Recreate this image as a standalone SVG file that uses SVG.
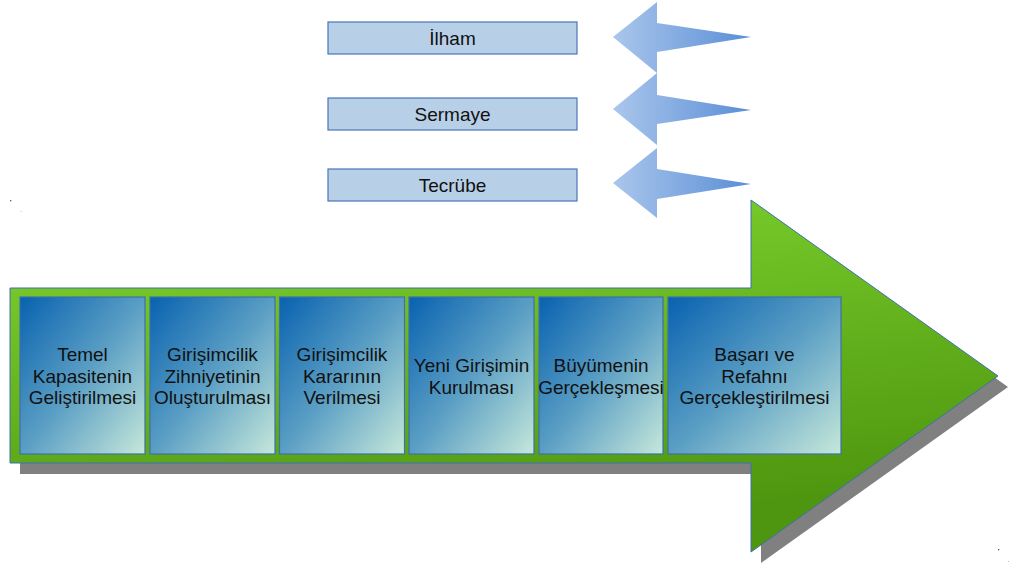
<svg xmlns="http://www.w3.org/2000/svg" width="1011" height="568" viewBox="0 0 1011 568">
<defs>
<linearGradient id="gGreen" x1="0" y1="0" x2="0.3" y2="1">
<stop offset="0" stop-color="#80d630"/>
<stop offset="1" stop-color="#4e960f"/>
</linearGradient>
<linearGradient id="gBox" x1="0" y1="0" x2="1" y2="1">
<stop offset="0" stop-color="#0862b0"/>
<stop offset="0.5" stop-color="#5a9ec4"/>
<stop offset="1" stop-color="#c6e8da"/>
</linearGradient>
<linearGradient id="gBlue" x1="0" y1="0" x2="1" y2="0">
<stop offset="0" stop-color="#aac6ec"/>
<stop offset="1" stop-color="#5a8ed6"/>
</linearGradient>
<style>
.t{font-family:"Liberation Sans",Arial,sans-serif;font-size:19px;fill:#111;text-anchor:middle}
.top{fill:#b8cfe8;stroke:#4a76b8;stroke-width:1.2}
.step{fill:url(#gBox);stroke:#3f6fb0;stroke-width:1.2}
.barrow{fill:url(#gBlue)}
</style>
</defs>
<rect x="10" y="200" width="1.3" height="1.3" fill="#2a5cc0"/>
<rect x="20.5" y="211" width="1" height="1" fill="#bbb"/>
<rect x="998" y="549" width="1.3" height="1.3" fill="#2a5cc0"/>
<rect x="1008" y="561" width="1" height="1" fill="#bbb"/>
<g id="connectors">
<polygon class="barrow" points="613,37 657,2 657,23 751,37 657,52 657,73"/>
<polygon class="barrow" points="613,109 657,73 657,95 751,110 657,124 657,145"/>
<polygon class="barrow" points="613,183 657,148 657,169 751,184 657,199 657,218"/>
</g>
<g id="ilham"><rect class="top" x="328" y="22" width="249" height="32"/><text class="t" x="452.5" y="45">İlham</text></g>
<g id="sermaye"><rect class="top" x="328" y="98" width="249" height="32"/><text class="t" x="452.5" y="121">Sermaye</text></g>
<g id="tecrube"><rect class="top" x="328" y="169" width="249" height="32"/><text class="t" x="452.5" y="192">Tecrübe</text></g>
<g id="mainArrow">
<polygon points="20,299 761,299 761,211 1008,387 761,563 761,474 20,474" fill="#808080"/>
<polygon points="10,288 751,288 751,200 998,376 751,552 751,463 10,463" fill="url(#gGreen)" stroke="#3f6fb0" stroke-width="1"/>
</g>
<g id="s1"><rect class="step" x="20" y="297" width="125" height="157"/><text class="t" x="82.5" y="361">Temel</text><text class="t" x="82.5" y="382.5">Kapasitenin</text><text class="t" x="82.5" y="404">Geliştirilmesi</text></g>
<g id="s2"><rect class="step" x="150" y="297" width="125" height="157"/><text class="t" x="212.5" y="361">Girişimcilik</text><text class="t" x="212.5" y="382.5">Zihniyetinin</text><text class="t" x="212.5" y="404">Oluşturulması</text></g>
<g id="s3"><rect class="step" x="279.5" y="297" width="125" height="157"/><text class="t" x="342" y="361">Girişimcilik</text><text class="t" x="342" y="382.5">Kararının</text><text class="t" x="342" y="404">Verilmesi</text></g>
<g id="s4"><rect class="step" x="409" y="297" width="125" height="157"/><text class="t" x="471.5" y="372">Yeni Girişimin</text><text class="t" x="471.5" y="393.5">Kurulması</text></g>
<g id="s5"><rect class="step" x="539" y="297" width="124" height="157"/><text class="t" x="601" y="372">Büyümenin</text><text class="t" x="601" y="393.5">Gerçekleşmesi</text></g>
<g id="s6"><rect class="step" x="668" y="297" width="173" height="157"/><text class="t" x="754.5" y="361">Başarı ve</text><text class="t" x="754.5" y="382.5">Refahnı</text><text class="t" x="754.5" y="404">Gerçekleştirilmesi</text></g>
</svg>
